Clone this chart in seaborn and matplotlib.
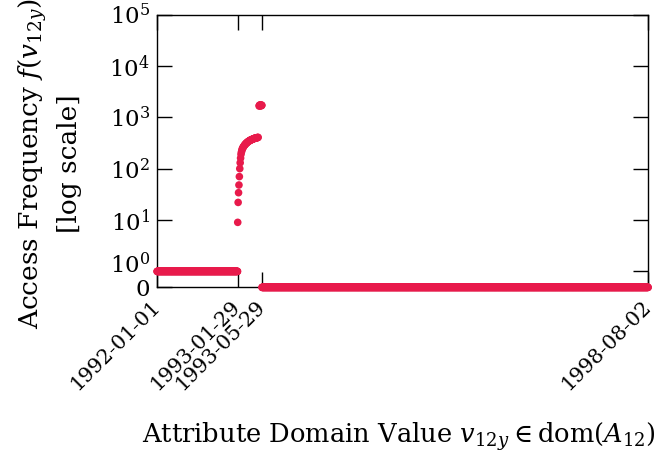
import numpy as np
import pandas as pd
import matplotlib
matplotlib.use("Agg")
import matplotlib.pyplot as plt
import matplotlib.ticker as mticker
import matplotlib.transforms as mtrans
import seaborn as sns

# ---------------- data ----------------
flat_start, flat_end = "1992-01-01", "1993-01-29"   # daily, value 1
flat_value = 1
rise_start = "1993-01-30"                            # every 2 days
rise_values = [9, 22, 34, 48, 70, 100, 130, 160, 190, 210, 225,
               240, 250, 258, 266, 274, 281, 288, 295, 301, 307,
               313, 318, 323, 328, 333, 338, 342, 346, 350, 354,
               358, 361, 364, 367, 370, 373, 376, 379, 382, 385,
               388, 390, 392, 394, 396, 398, 400, 402, 404, 406]
peak_start = "1993-05-15"                            # daily
peak_values = [1650, 1700, 1720, 1690, 1710, 1680, 1700,
               1730, 1690, 1700, 1710, 1680, 1700, 1720]
zero_start, zero_end = "1993-05-29", "1998-08-02"    # daily, value 0
zero_value = 0

xtick_dates = ["1992-01-01", "1993-01-29", "1993-05-29", "1998-08-02"]
ytick_values = [0, 1, 10, 100, 1000, 10000, 100000]
ytick_labels = ["0", r"$10^0$", r"$10^1$", r"$10^2$", r"$10^3$", r"$10^4$", r"$10^5$"]

# ---------------- build table ----------------
d_flat = pd.date_range(flat_start, flat_end, freq="D")
d_rise = pd.date_range(rise_start, periods=len(rise_values), freq="2D")
d_peak = pd.date_range(peak_start, periods=len(peak_values), freq="D")
d_zero = pd.date_range(zero_start, zero_end, freq="D")
df = pd.DataFrame({
    "date": np.concatenate([d_flat.values, d_rise.values, d_peak.values, d_zero.values]),
    "freq": np.concatenate([np.full(len(d_flat), flat_value, float),
                            np.array(rise_values, float),
                            np.array(peak_values, float),
                            np.full(len(d_zero), zero_value, float)]),
})

# ---------------- style ----------------
sns.set_style("ticks")
plt.rcParams["font.family"] = ["DejaVu Serif"]
plt.rcParams["mathtext.fontset"] = "dejavuserif"
plt.rcParams["axes.linewidth"] = 1.0
plt.rcParams["text.color"] = "black"
plt.rcParams["axes.labelcolor"] = "black"
plt.rcParams["xtick.color"] = "black"
plt.rcParams["ytick.color"] = "black"
plt.rcParams["axes.edgecolor"] = "black"

color = "#E81A4B"
FS_YTICK = 16.5
FS_XTICK = 14.8
FS_LAB = 18.5

fig = plt.figure(figsize=(6.6, 4.68), dpi=100)
ax = fig.add_axes([0.238, 0.386, 0.744, 0.583])

sns.scatterplot(data=df, x="date", y="freq", color=color, s=30,
                edgecolor="none", linewidth=0, ax=ax, clip_on=False, zorder=3)

LIN = 0.311
def fwd(v):
    v = np.asarray(v, float)
    return np.where(v >= 1, np.log10(np.maximum(v, 1e-300)), (v - 1) * LIN)

def inv(y):
    y = np.asarray(y, float)
    return np.where(y >= 0, 10 ** np.minimum(y, 300), 1 + y / LIN)

ax.set_yscale("function", functions=(fwd, inv))
ax.set_ylim(0, 1e5)
ax.yaxis.set_major_locator(mticker.FixedLocator(ytick_values))
ax.yaxis.set_major_formatter(mticker.FixedFormatter(ytick_labels))
ax.yaxis.set_minor_locator(mticker.NullLocator())

xt = pd.to_datetime(xtick_dates)
ax.set_xlim(xt[0], xt[-1])
ax.set_xticks(xt)
ax.set_xticklabels(xtick_dates, rotation=45, ha="right", va="center",
                   rotation_mode="anchor", fontsize=FS_XTICK)
ax.xaxis.set_minor_locator(mticker.NullLocator())

ax.tick_params(direction="in", top=True, right=True, length=11, width=1,
               color="black", labelcolor="black")
ax.tick_params(axis="y", labelsize=FS_YTICK, pad=5)
ax.tick_params(axis="x", pad=11.5)
for sp in ax.spines.values():
    sp.set_visible(True)
    sp.set_color("black")

# lift the 10^0 label slightly as in the reference
yticks = ax.yaxis.get_major_ticks()
lab = yticks[1].label1
lab.set_transform(lab.get_transform() + mtrans.ScaledTranslation(0, 6 / 72, fig.dpi_scale_trans))

ax.set_xlabel(r"Attribute Domain Value $v_{12y} \in \mathrm{dom}(A_{12})$",
              fontsize=FS_LAB, va="top")
ax.xaxis.set_label_coords(0.493, -0.486)
ax.set_ylabel("Access Frequency $f(v_{12y})$\n[log scale]", fontsize=19, linespacing=1.4)
ax.yaxis.set_label_coords(-0.152, 0.452)

fig.savefig("out.png", dpi=100)
